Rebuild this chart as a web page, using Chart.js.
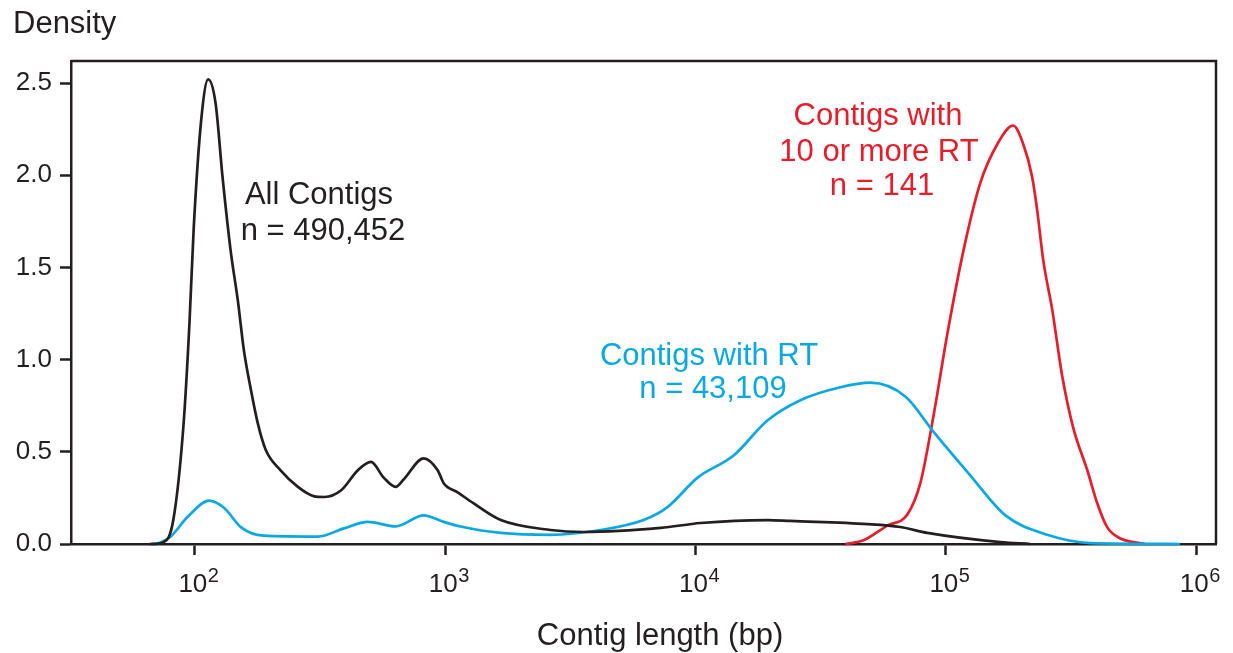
<!DOCTYPE html>
<html>
<head>
<meta charset="UTF-8">
<title>Contig length density</title>
<script src="https://cdn.jsdelivr.net/npm/chart.js@4.4.1/dist/chart.umd.min.js"></script>
<style>
  html, body { margin: 0; padding: 0; background: #fff; }
  canvas { display: block; }
</style>
</head>
<body>
<canvas id="density" width="1233" height="653"></canvas>
<script>
// contig length (bp) and density
var allX = [66, 75, 82, 90, 95, 99, 106, 113, 121, 129, 139, 148.5, 157, 167.5, 178, 192, 220, 258, 298, 330, 383, 448, 505, 568, 634, 682, 820, 933, 986, 1122, 1300, 1667, 2636, 3573, 7249, 10470, 19370, 23930, 48620, 65800, 84330, 165200, 217300];
var allY = [0, 0.01, 0.13, 0.64, 1.18, 1.72, 2.30, 2.52, 2.39, 1.99, 1.59, 1.32, 1.05, 0.835, 0.66, 0.51, 0.40, 0.31, 0.26, 0.255, 0.29, 0.40, 0.445, 0.36, 0.31, 0.35, 0.465, 0.40, 0.33, 0.28, 0.22, 0.13, 0.076, 0.065, 0.087, 0.114, 0.13, 0.125, 0.108, 0.092, 0.06, 0.01, 0];

var rtX = [68, 72, 80, 94, 114, 131, 153, 188, 310, 394, 491, 634, 820, 986, 1153, 1667, 2636, 4178, 6200, 7727, 10190, 14190, 19370, 26240, 37930, 50000, 68870, 89130, 123000, 173000, 254000, 377600, 863000];
var rtY = [0, 0.005, 0.04, 0.15, 0.235, 0.195, 0.09, 0.045, 0.04, 0.085, 0.12, 0.095, 0.155, 0.12, 0.095, 0.06, 0.05, 0.076, 0.13, 0.2, 0.36, 0.48, 0.67, 0.78, 0.85, 0.875, 0.80, 0.61, 0.385, 0.155, 0.05, 0.005, 0];

var rt10X = [39720, 46880, 58390, 70150, 79070, 89130, 101400, 117500, 137400, 160700, 185800, 203700, 221300, 231700, 244900, 266100, 291700, 322800, 367400, 402800, 441600, 497700, 561000, 625000];
var rt10Y = [0, 0.02, 0.10, 0.16, 0.33, 0.69, 1.14, 1.59, 1.96, 2.17, 2.27, 2.17, 1.99, 1.81, 1.54, 1.27, 0.91, 0.63, 0.40, 0.22, 0.09, 0.03, 0.01, 0];

var xTicks = [100, 1000, 10000, 100000, 1000000];
var xTickExp = ['2', '3', '4', '5', '6'];
var yTicks = [0, 0.5, 1.0, 1.5, 2.0, 2.5];

var BLACK = '#231f20';
var BLUE = '#0aa8e2';
var RED = '#e41e2b';
var FONT = '"Liberation Sans", Arial, sans-serif';

function pts(xs, ys) {
  var out = [];
  for (var i = 0; i < xs.length; i++) out.push({ x: xs[i], y: ys[i] });
  return out;
}

function line(data, color) {
  return {
    data: data,
    borderColor: color,
    borderWidth: 2.7,
    pointRadius: 0,
    fill: false,
    cubicInterpolationMode: 'monotone',
    clip: 6
  };
}

// top + right frame, exponents on the x ticks, text labels
var decor = {
  id: 'decor',
  beforeDatasetsDraw: function (chart) {
    var a = chart.chartArea, ctx = chart.ctx;
    ctx.save();
    ctx.strokeStyle = BLACK;
    ctx.lineWidth = 2.5;
    ctx.beginPath();
    ctx.moveTo(a.left, a.top);
    ctx.lineTo(a.right, a.top);
    ctx.lineTo(a.right, a.bottom);
    ctx.stroke();
    ctx.restore();
  },
  afterDatasetsDraw: function (chart) {
    var ctx = chart.ctx, xs = chart.scales.x;
    ctx.save();
    ctx.textBaseline = 'alphabetic';
    ctx.fillStyle = BLACK;

    ctx.textAlign = 'left';
    ctx.font = '20px ' + FONT;
    xTicks.forEach(function (v, i) {
      ctx.fillText(xTickExp[i], xs.getPixelForValue(v) + 13, 582);
    });

    ctx.font = '31px ' + FONT;
    ctx.fillText('Density', 13, 33);
    ctx.textAlign = 'center';
    ctx.font = '31px ' + FONT;
    ctx.fillText('Contig length (bp)', 660, 645);

    ctx.font = '31px ' + FONT;
    ctx.fillText('All Contigs', 319, 204);
    ctx.fillText('n = 490,452', 323, 240);

    ctx.fillStyle = BLUE;
    ctx.fillText('Contigs with RT', 709, 365);
    ctx.fillText('n = 43,109', 713, 398);

    ctx.fillStyle = RED;
    ctx.fillText('Contigs with', 878, 125);
    ctx.fillText('10 or more RT', 879, 161);
    ctx.fillText('n = 141', 882, 195);
    ctx.restore();
  }
};

new Chart(document.getElementById('density'), {
  type: 'line',
  data: {
    datasets: [
      line(pts(allX, allY), BLACK),
      line(pts(rtX, rtY), BLUE),
      line(pts(rt10X, rt10Y), RED)
    ]
  },
  options: {
    responsive: false,
    animation: false,
    events: [],
    layout: { padding: { top: 61, right: 17, left: 0, bottom: 0 } },
    plugins: { legend: { display: false }, tooltip: { enabled: false } },
    scales: {
      x: {
        type: 'logarithmic',
        min: 32,
        max: 1200000,
        afterBuildTicks: function (s) {
          s.ticks = xTicks.map(function (v) { return { value: v, major: true }; });
        },
        afterFit: function (s) { s.height = 109; },
        ticks: {
          autoSkip: false,
          maxRotation: 0,
          color: BLACK,
          padding: 14,
          labelOffset: -2,
          font: { family: FONT, size: 26 },
          callback: function (v) { return xTicks.indexOf(v) >= 0 ? '10' : ''; }
        },
        grid: { drawOnChartArea: false, drawTicks: true, tickLength: 11, tickWidth: 2.5, tickColor: BLACK },
        border: { display: true, color: BLACK, width: 2.5 }
      },
      y: {
        type: 'linear',
        min: 0,
        max: 2.62,
        afterBuildTicks: function (s) {
          s.ticks = yTicks.map(function (v) { return { value: v }; });
        },
        afterFit: function (s) { s.width = 71; },
        ticks: {
          color: BLACK,
          padding: 8,
          font: { family: FONT, size: 26 },
          callback: function (v) { return Number(v).toFixed(1); }
        },
        grid: { drawOnChartArea: false, drawTicks: true, tickLength: 11, tickWidth: 2.5, tickColor: BLACK },
        border: { display: true, color: BLACK, width: 2.5 }
      }
    }
  },
  plugins: [decor]
});
</script>
</body>
</html>
